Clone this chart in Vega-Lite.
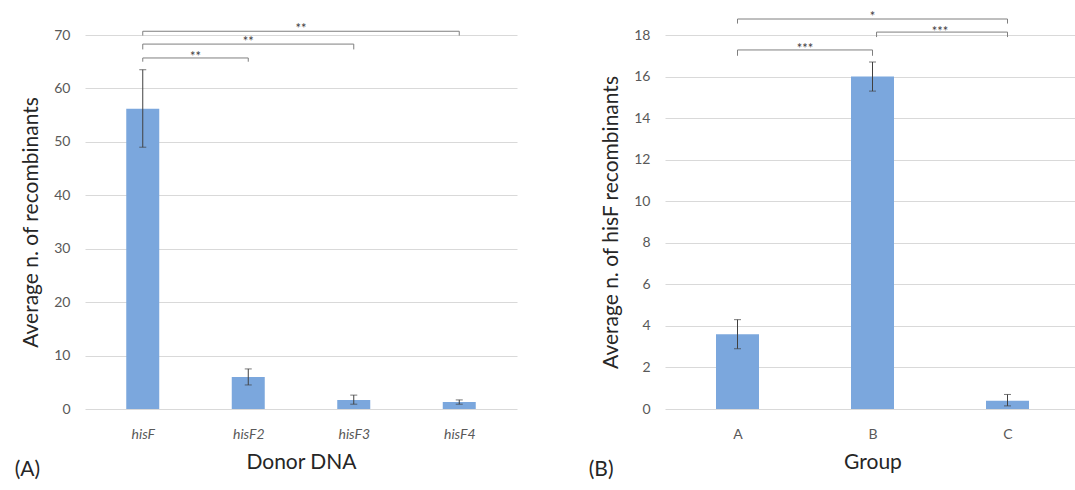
{
  "$schema": "https://vega.github.io/schema/vega-lite/v6.json",
  "background": "white",
  "padding": {"left": 14, "right": 0, "top": 10, "bottom": 0},
  "spacing": 71,
  "config": {
    "font": "Lato",
    "view": {"stroke": null},
    "axis": {
      "labelFont": "Lato", "titleFont": "Lato",
      "labelColor": "#595959", "labelFontSize": 14,
      "titleColor": "#262626", "titleFontSize": 21, "titleFontWeight": "normal",
      "ticks": false, "domain": false, "gridColor": "#d9d9d9"
    }
  },
  "datasets": {
    "left": [
      {"pos": 1, "mean": 56.2, "lo": 49.0, "hi": 63.5},
      {"pos": 2, "mean": 6.0, "lo": 4.5, "hi": 7.5},
      {"pos": 3, "mean": 1.7, "lo": 0.9, "hi": 2.6},
      {"pos": 4, "mean": 1.3, "lo": 0.9, "hi": 1.7}
    ],
    "leftBr": [
      {"x1": 1, "x2": 2, "top": 65.7, "end": 65.0, "mid": 1.5, "ly": 66.6, "label": "**"},
      {"x1": 1, "x2": 3, "top": 68.3, "end": 67.3, "mid": 2.0, "ly": 69.4, "label": "**"},
      {"x1": 1, "x2": 4, "top": 70.7, "end": 69.9, "mid": 2.5, "ly": 71.8, "label": "**"}
    ],
    "right": [
      {"pos": 1, "mean": 3.6, "lo": 2.9, "hi": 4.3},
      {"pos": 2, "mean": 16.0, "lo": 15.3, "hi": 16.7},
      {"pos": 3, "mean": 0.4, "lo": 0.15, "hi": 0.7}
    ],
    "rightBr": [
      {"x1": 1, "x2": 2, "top": 17.28, "end": 17.0, "mid": 1.5, "ly": 17.52, "label": "***"},
      {"x1": 2.03, "x2": 3, "top": 18.14, "end": 17.9, "mid": 2.5, "ly": 18.33, "label": "***"},
      {"x1": 1, "x2": 3, "top": 18.77, "end": 18.55, "mid": 2.0, "ly": 19.06, "label": "*"}
    ]
  },
  "hconcat": [
    {
      "width": 432, "height": 374,
      "title": {"text": "(A)", "orient": "bottom", "anchor": "start", "frame": "bounds", "fontSize": 21, "fontWeight": "normal", "color": "#262626", "offset": -13, "dx": -6},
      "layer": [
        {
          "data": {"name": "left"},
          "mark": {"type": "bar", "size": 33, "color": "#7ba7dd"},
          "encoding": {
            "x": {"field": "pos", "type": "quantitative", "scale": {"domain": [0.5, 4.5], "nice": false, "zero": false},
                  "axis": {"values": [1, 2, 3, 4], "grid": false, "labelExpr": "['hisF','hisF2','hisF3','hisF4'][datum.value-1]", "labelFontStyle": "italic", "labelPadding": 18, "title": "Donor DNA", "titlePadding": 10}},
            "y": {"field": "mean", "type": "quantitative", "scale": {"domain": [0, 70], "nice": false},
                  "axis": {"values": [0, 10, 20, 30, 40, 50, 60, 70], "labelPadding": 15, "title": "Average n. of recombinants", "titlePadding": 12}}
          }
        },
        {
          "data": {"name": "left"},
          "mark": {"type": "rule", "color": "#404040", "strokeWidth": 1},
          "encoding": {"x": {"field": "pos", "type": "quantitative"}, "y": {"field": "lo", "type": "quantitative"}, "y2": {"field": "hi"}}
        },
        {
          "data": {"name": "left"},
          "mark": {"type": "tick", "orient": "horizontal", "color": "#404040", "size": 7, "thickness": 1},
          "encoding": {"x": {"field": "pos", "type": "quantitative"}, "y": {"field": "lo", "type": "quantitative"}}
        },
        {
          "data": {"name": "left"},
          "mark": {"type": "tick", "orient": "horizontal", "color": "#404040", "size": 7, "thickness": 1},
          "encoding": {"x": {"field": "pos", "type": "quantitative"}, "y": {"field": "hi", "type": "quantitative"}}
        },
        {
          "data": {"name": "leftBr"},
          "mark": {"type": "rule", "color": "#7f7f7f", "strokeWidth": 1},
          "encoding": {"x": {"field": "x1", "type": "quantitative"}, "x2": {"field": "x2"}, "y": {"field": "top", "type": "quantitative"}}
        },
        {
          "data": {"name": "leftBr"},
          "mark": {"type": "rule", "color": "#7f7f7f", "strokeWidth": 1},
          "encoding": {"x": {"field": "x1", "type": "quantitative"}, "y": {"field": "top", "type": "quantitative"}, "y2": {"field": "end"}}
        },
        {
          "data": {"name": "leftBr"},
          "mark": {"type": "rule", "color": "#7f7f7f", "strokeWidth": 1},
          "encoding": {"x": {"field": "x2", "type": "quantitative"}, "y": {"field": "top", "type": "quantitative"}, "y2": {"field": "end"}}
        },
        {
          "data": {"name": "leftBr"},
          "mark": {"type": "text", "fontSize": 13, "color": "#404040", "baseline": "middle", "dy": 4},
          "encoding": {"x": {"field": "mid", "type": "quantitative"}, "y": {"field": "ly", "type": "quantitative"}, "text": {"field": "label"}}
        }
      ]
    },
    {
      "width": 415, "height": 374,
      "title": {"text": "(B)", "orient": "bottom", "anchor": "start", "frame": "bounds", "fontSize": 21, "fontWeight": "normal", "color": "#262626", "offset": -13, "dx": -12},
      "layer": [
        {
          "data": {"name": "right"},
          "mark": {"type": "bar", "size": 43, "color": "#7ba7dd"},
          "encoding": {
            "x": {"field": "pos", "type": "quantitative", "scale": {"domain": [0.5, 3.5], "nice": false, "zero": false},
                  "axis": {"values": [1, 2, 3], "grid": false, "labelExpr": "['A','B','C'][datum.value-1]", "labelPadding": 18, "title": "Group", "titlePadding": 10}},
            "y": {"field": "mean", "type": "quantitative", "scale": {"domain": [0, 18], "nice": false},
                  "axis": {"values": [0, 2, 4, 6, 8, 10, 12, 14, 16, 18], "labelPadding": 15, "title": "Average n. of hisF recombinants", "titlePadding": 12}}
          }
        },
        {
          "data": {"name": "right"},
          "mark": {"type": "rule", "color": "#404040", "strokeWidth": 1},
          "encoding": {"x": {"field": "pos", "type": "quantitative"}, "y": {"field": "lo", "type": "quantitative"}, "y2": {"field": "hi"}}
        },
        {
          "data": {"name": "right"},
          "mark": {"type": "tick", "orient": "horizontal", "color": "#404040", "size": 7, "thickness": 1},
          "encoding": {"x": {"field": "pos", "type": "quantitative"}, "y": {"field": "lo", "type": "quantitative"}}
        },
        {
          "data": {"name": "right"},
          "mark": {"type": "tick", "orient": "horizontal", "color": "#404040", "size": 7, "thickness": 1},
          "encoding": {"x": {"field": "pos", "type": "quantitative"}, "y": {"field": "hi", "type": "quantitative"}}
        },
        {
          "data": {"name": "rightBr"},
          "mark": {"type": "rule", "color": "#7f7f7f", "strokeWidth": 1},
          "encoding": {"x": {"field": "x1", "type": "quantitative"}, "x2": {"field": "x2"}, "y": {"field": "top", "type": "quantitative"}}
        },
        {
          "data": {"name": "rightBr"},
          "mark": {"type": "rule", "color": "#7f7f7f", "strokeWidth": 1},
          "encoding": {"x": {"field": "x1", "type": "quantitative"}, "y": {"field": "top", "type": "quantitative"}, "y2": {"field": "end"}}
        },
        {
          "data": {"name": "rightBr"},
          "mark": {"type": "rule", "color": "#7f7f7f", "strokeWidth": 1},
          "encoding": {"x": {"field": "x2", "type": "quantitative"}, "y": {"field": "top", "type": "quantitative"}, "y2": {"field": "end"}}
        },
        {
          "data": {"name": "rightBr"},
          "mark": {"type": "text", "fontSize": 13, "color": "#404040", "baseline": "middle", "dy": 4},
          "encoding": {"x": {"field": "mid", "type": "quantitative"}, "y": {"field": "ly", "type": "quantitative"}, "text": {"field": "label"}}
        }
      ]
    }
  ]
}
